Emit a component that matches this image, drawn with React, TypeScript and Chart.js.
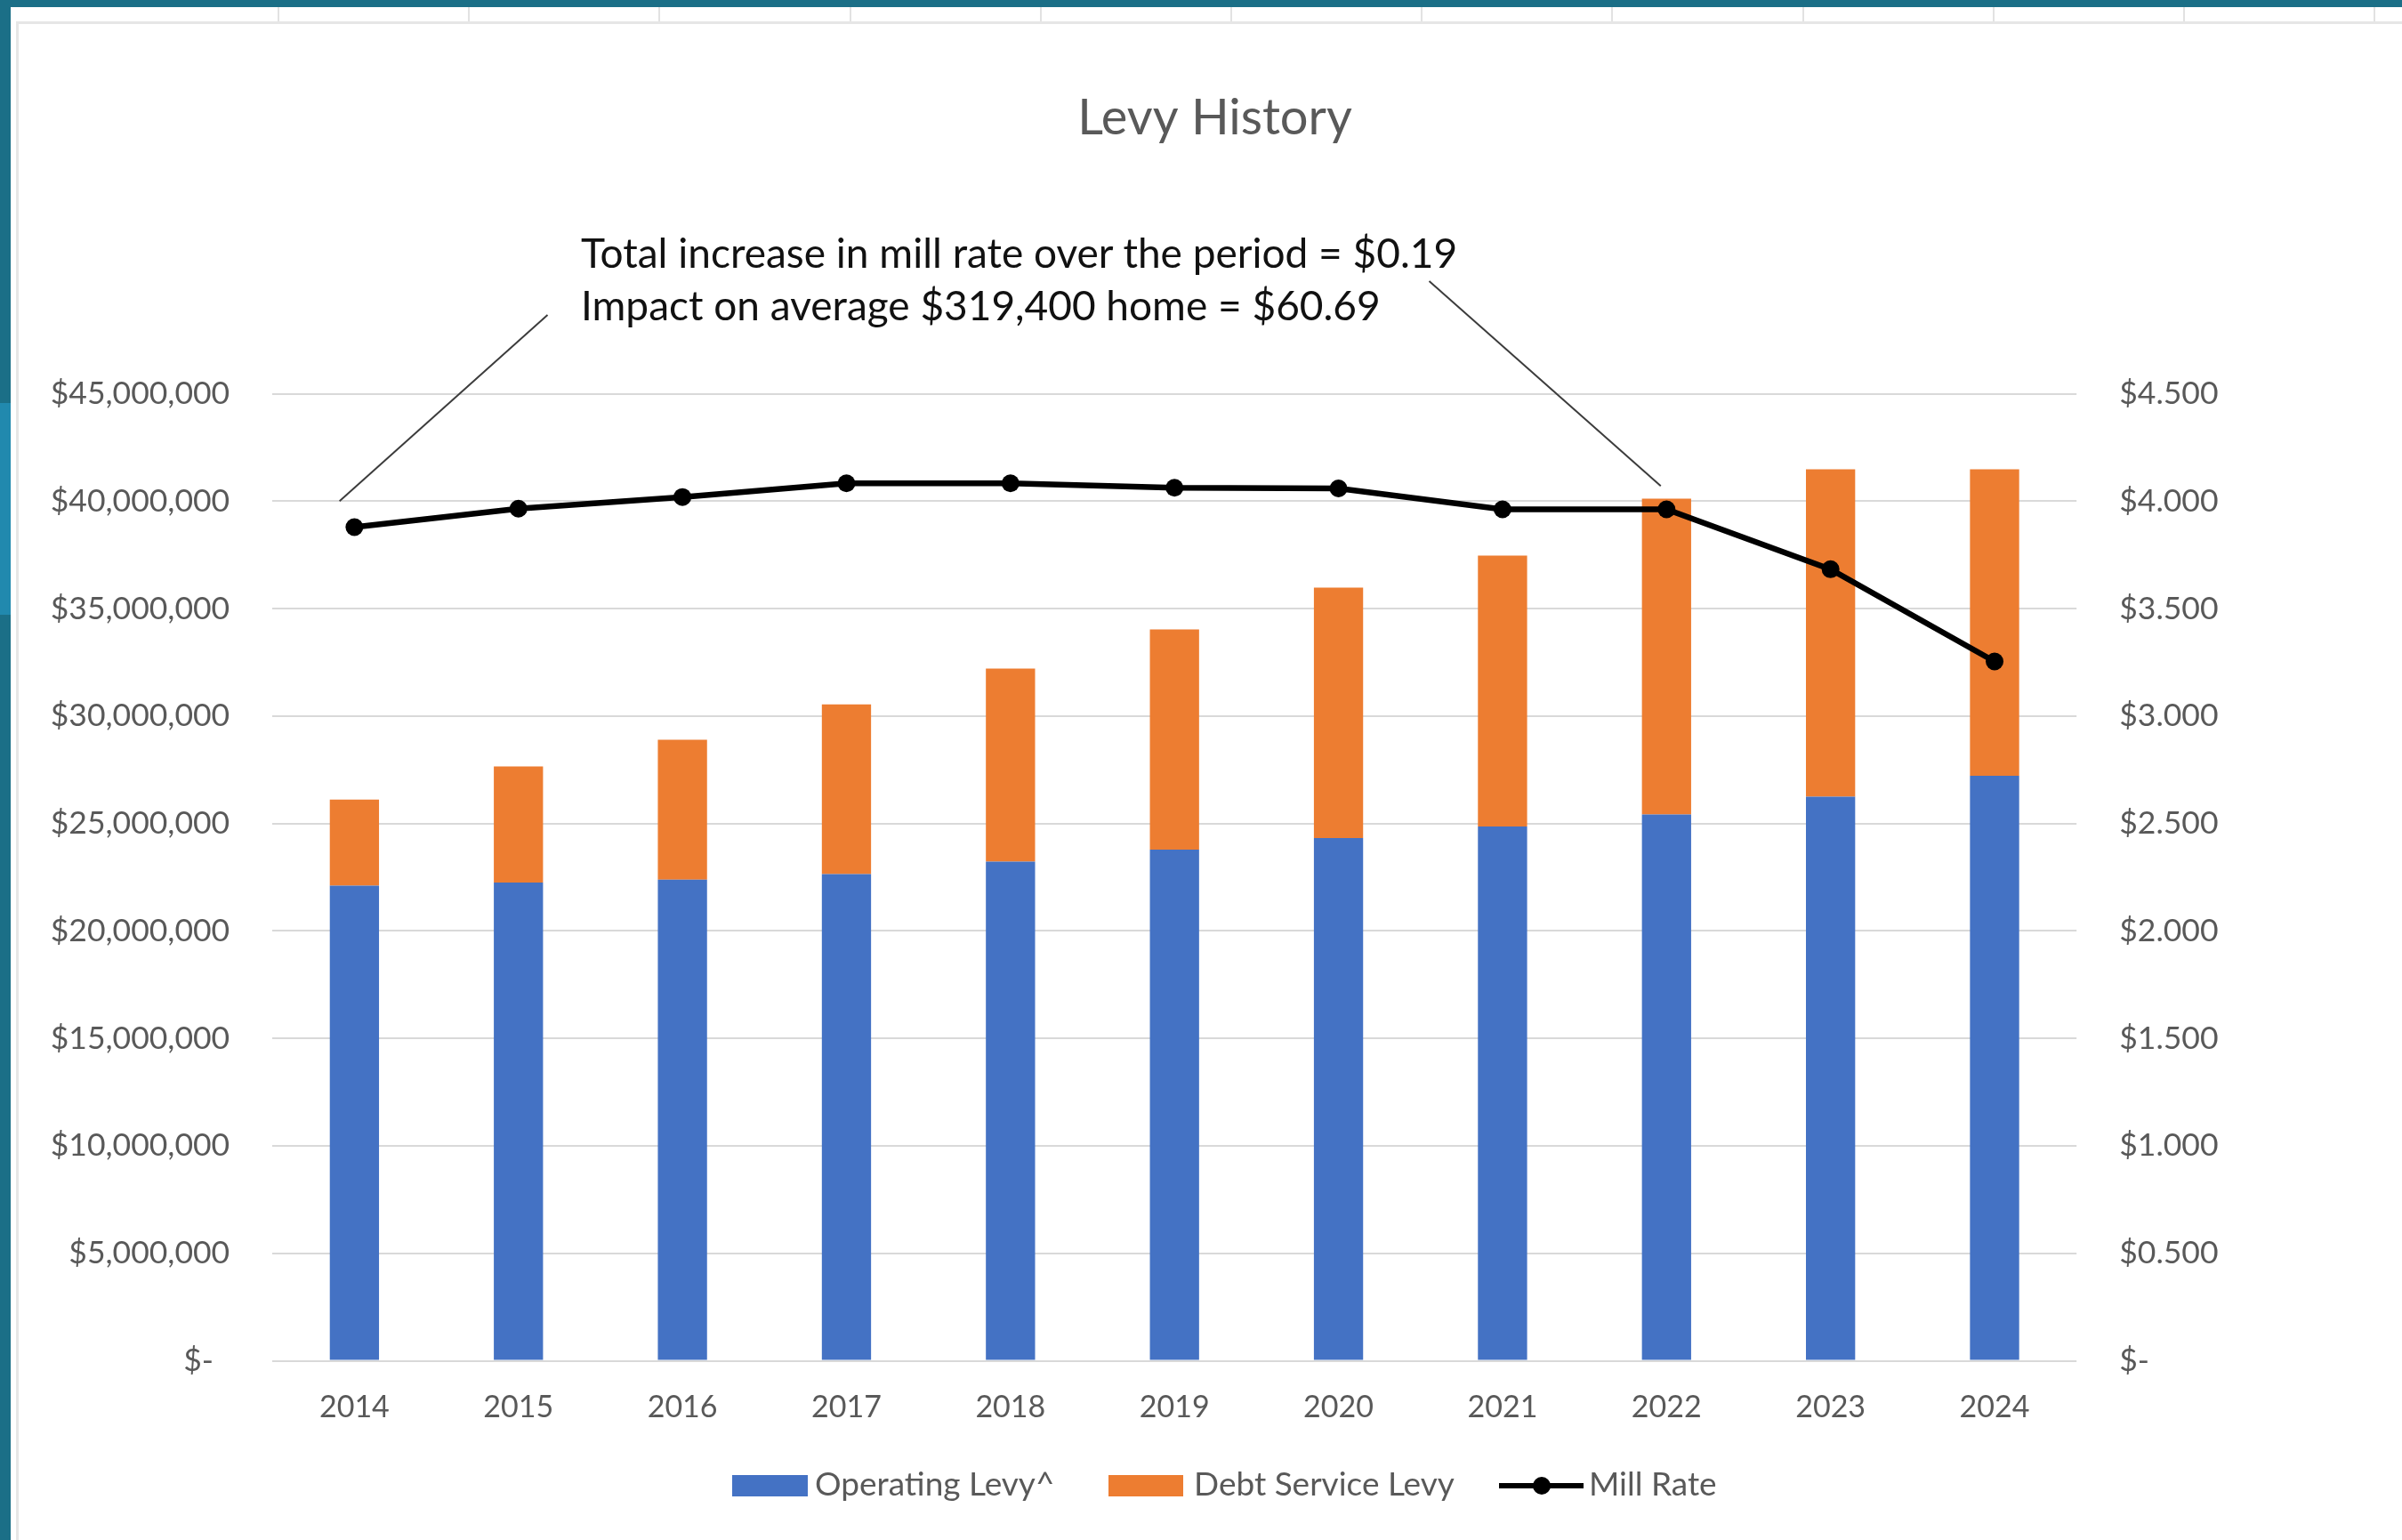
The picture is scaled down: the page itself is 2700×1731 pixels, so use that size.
import React, { useEffect, useRef } from "react";
import { Chart, registerables } from "chart.js";

Chart.register(...registerables);

// ---------- data ----------
const years = ["2014", "2015", "2016", "2017", "2018", "2019", "2020", "2021", "2022", "2023", "2024"];
const operatingLevy = [22110000, 22250000, 22390000, 22650000, 23220000, 23780000, 24320000, 24860000, 25420000, 26250000, 27220000];
const debtServiceLevy = [4000000, 5400000, 6510000, 7890000, 8990000, 10250000, 11650000, 12610000, 14700000, 15230000, 14260000];
const millRate = [3.879, 3.965, 4.019, 4.083, 4.083, 4.062, 4.059, 3.962, 3.962, 3.683, 3.254];
const seriesNames = ["Operating Levy^", "Debt Service Levy", "Mill Rate"];
const chartTitle = "Levy History";
const noteLines = [
  "Total increase in mill rate over the period = $0.19",
  "Impact on average $319,400 home = $60.69",
];
// leader line anchors (category index, mill rate value)
const leaderAnchors = [
  { index: 0, value: 4.0 },
  { index: 8, value: 4.07 },
];

const BLUE = "#4472C4";
const ORANGE = "#ED7D31";
const GREY_TEXT = "#595959";
const FONT = "Lato";

const leftTick = (v: number) => (v === 0 ? "$-  " : "$" + Number(v).toLocaleString("en-US"));
const rightTick = (v: number) => (v === 0 ? "$-" : "$" + Number(v).toFixed(3));

const leaderPlugin = {
  id: "leaderLines",
  afterDatasetsDraw(chart: any) {
    const { ctx, scales } = chart;
    const x = scales.x;
    const y1 = scales.y1;
    const tops = [
      { px: 615.5, py: 354, dx: -16.7 },
      { px: 1606.5, py: 316, dx: -6.5 },
    ];
    ctx.save();
    ctx.strokeStyle = "#3c3c3c";
    ctx.lineWidth = 2;
    leaderAnchors.forEach((a, i) => {
      const t = tops[i];
      ctx.beginPath();
      ctx.moveTo(t.px, t.py);
      ctx.lineTo(x.getPixelForValue(a.index) + t.dx, y1.getPixelForValue(a.value));
      ctx.stroke();
    });
    ctx.restore();
  },
};

export default function App() {
  const canvasRef = useRef<HTMLCanvasElement | null>(null);

  useEffect(() => {
    if (!canvasRef.current) return;
    Chart.defaults.font.family = FONT;
    const chart = new Chart(canvasRef.current, {
      type: "bar",
      data: {
        labels: years,
        datasets: [
          {
            type: "line",
            label: seriesNames[2],
            data: millRate,
            yAxisID: "y1",
            borderColor: "#000000",
            backgroundColor: "#000000",
            borderWidth: 6.5,
            pointRadius: 10,
            pointHoverRadius: 10,
            pointBorderWidth: 0,
            pointBackgroundColor: "#000000",
            tension: 0,
            order: 0,
          } as any,
          {
            type: "bar",
            label: seriesNames[0],
            data: operatingLevy,
            backgroundColor: BLUE,
            yAxisID: "y",
            barPercentage: 0.3,
            categoryPercentage: 1,
            order: 1,
          },
          {
            type: "bar",
            label: seriesNames[1],
            data: debtServiceLevy,
            backgroundColor: ORANGE,
            yAxisID: "y",
            barPercentage: 0.3,
            categoryPercentage: 1,
            order: 2,
          },
        ],
      },
      options: {
        responsive: false,
        animation: false,
        devicePixelRatio: 1,
        layout: { padding: { left: 31, right: 0, top: 0, bottom: 0 } },
        plugins: {
          legend: { display: false },
          tooltip: { enabled: false },
          title: {
            display: true,
            text: chartTitle,
            color: GREY_TEXT,
            font: { size: 56, weight: "normal", family: FONT },
            padding: { top: 99.8, bottom: 275.5 },
          },
        },
        scales: {
          x: {
            stacked: true,
            grid: { display: false },
            border: { display: false },
            ticks: { color: GREY_TEXT, font: { size: 34 }, padding: 24, maxRotation: 0, autoSkip: false },
            afterFit: (s: any) => {
              s.height = 201.5;
            },
          },
          y: {
            position: "left",
            stacked: true,
            min: 0,
            max: 45000000,
            grid: { color: "#d9d9d9", lineWidth: 2, drawTicks: false },
            border: { display: false },
            ticks: { stepSize: 5000000, padding: 48, color: GREY_TEXT, font: { size: 35.5 }, callback: (v: any) => leftTick(Number(v)) },
            afterFit: (s: any) => {
              s.width = 275.2;
            },
          },
          y1: {
            position: "right",
            min: 0,
            max: 4.5,
            grid: { display: false, drawTicks: false },
            border: { display: false },
            ticks: { stepSize: 0.5, padding: 48, color: GREY_TEXT, font: { size: 35.5 }, callback: (v: any) => rightTick(Number(v)) },
            afterFit: (s: any) => {
              s.width = 365.8;
            },
          },
        },
      } as any,
      plugins: [leaderPlugin],
    });
    return () => chart.destroy();
  }, []);

  const cellLines = Array.from({ length: 12 }, (_, k) => 312 + 214.2 * k);

  return (
    <div
      style={{
        position: "absolute",
        left: 0,
        top: 0,
        width: 2700,
        height: 1731,
        background: "#1b6f87",
        overflow: "hidden",
        fontFamily: FONT,
      }}
    >
      <div style={{ position: "absolute", left: 0, top: 453, width: 12, height: 238, background: "#2189ae" }} />
      <div style={{ position: "absolute", left: 12, top: 8, right: 0, bottom: 0, background: "#ffffff" }} />
      {cellLines.map((x, i) => (
        <div key={i} style={{ position: "absolute", left: x, top: 8, width: 2, height: 17, background: "#e2e2e2" }} />
      ))}
      <div style={{ position: "absolute", left: 18, top: 24, width: 2682, height: 3, background: "#e6e6e6" }} />
      <div style={{ position: "absolute", left: 18, top: 24, width: 3, height: 1707, background: "#e6e6e6" }} />
      <canvas ref={canvasRef} width={2700} height={1731} style={{ position: "absolute", left: 0, top: 0 }} />
      {noteLines.map((t, i) => (
        <div
          key={i}
          style={{
            position: "absolute",
            left: 653,
            top: i === 0 ? 255.6 : 314.6,
            fontSize: 46,
            lineHeight: 1.2,
            color: "#111111",
            whiteSpace: "nowrap",
          }}
        >
          {t}
        </div>
      ))}
      {/* legend */}
      <div style={{ position: "absolute", left: 823, top: 1658, width: 85, height: 24, background: BLUE }} />
      <div style={{ position: "absolute", left: 916, top: 1645.2, fontSize: 37, lineHeight: 1.2, color: GREY_TEXT, whiteSpace: "nowrap" }}>
        {seriesNames[0]}
      </div>
      <div style={{ position: "absolute", left: 1246, top: 1658, width: 84, height: 24, background: ORANGE }} />
      <div style={{ position: "absolute", left: 1342, top: 1645.2, fontSize: 37, lineHeight: 1.2, color: GREY_TEXT, whiteSpace: "nowrap" }}>
        {seriesNames[1]}
      </div>
      <div style={{ position: "absolute", left: 1685, top: 1667, width: 95, height: 6, background: "#000" }} />
      <div style={{ position: "absolute", left: 1723, top: 1660, width: 20, height: 20, borderRadius: 10, background: "#000" }} />
      <div style={{ position: "absolute", left: 1786, top: 1645.2, fontSize: 37, lineHeight: 1.2, color: GREY_TEXT, whiteSpace: "nowrap" }}>
        {seriesNames[2]}
      </div>
    </div>
  );
}
